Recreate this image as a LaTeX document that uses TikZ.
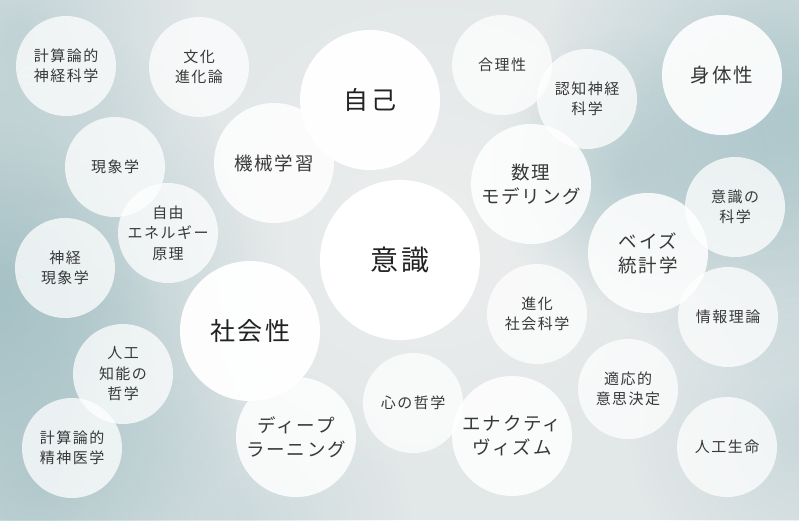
\documentclass[tikz,border=0pt]{standalone}
\usepackage{fontspec}
\setmainfont[LetterSpace=10]{Noto Sans CJK JP}
\usetikzlibrary{fadings}
\definecolor{bgbase}{HTML}{E2E7E8}
\definecolor{tealA}{HTML}{A6C2C6}
\definecolor{tealB}{HTML}{AFC8CC}
\definecolor{lightc}{HTML}{EDEEEE}
\definecolor{txt}{HTML}{383838}
\definecolor{txtd}{HTML}{222222}
\tikzfading[name=softblob, inner color=transparent!0, outer color=transparent!100]
\tikzset{
  bub/.style={circle, inner sep=0pt, align=center, text=txt, fill=white, fill opacity=0.75, text opacity=1},
  sm/.style={bub, minimum size=100pt, font=\fontsize{15}{20.5}\selectfont},
  md/.style={bub, minimum size=120pt, fill opacity=0.85, font=\fontsize{18.5}{24}\selectfont},
  lg/.style={bub, minimum size=140pt, fill opacity=0.97, text=txtd, font=\fontsize{25}{30}\selectfont},
  blob/.style={path fading=softblob}
}
\begin{document}
\begin{tikzpicture}[x=1pt,y=-1pt]
\useasboundingbox (0,0) rectangle (799,520);
\fill[bgbase] (0,0) rectangle (799,520);
\begin{scope}
\clip (0,0) rectangle (799,520);
\fill[lightc, blob, opacity=1] (430,230) circle (260);
\fill[tealA, blob, opacity=1] (-20,300) circle (300);
\fill[tealA, blob, opacity=0.6] (0,290) circle (160);
\fill[tealA, blob, opacity=0.7] (40,480) circle (220);
\fill[tealB, blob, opacity=1] (790,120) circle (260);
\fill[tealB, blob, opacity=0.6] (770,150) circle (150);
\fill[tealB, blob, opacity=0.7] (630,170) circle (140);
\fill[tealB, blob, opacity=0.6] (20,30) circle (180);
\fill[tealB, blob, opacity=0.5] (810,430) circle (180);
\fill[tealB, blob, opacity=0.4] (250,520) circle (160);
\end{scope}
% small circles
\node[sm] (keisanshinkei) at (66,66) {計算論的\\神経科学};
\node[sm] (bunka) at (199,67) {文化\\進化論};
\node[sm] (genshou) at (115,167) {現象学};
\node[sm] (jiyuu) at (168,233) {自由\\エネルギー\\原理};
\node[sm] (shinkeigen) at (65,268) {神経\\現象学};
\node[sm] (jinkou) at (123,374) {人工\\知能の\\哲学};
\node[sm] (seishin) at (72,448) {計算論的\\精神医学};
\node[sm] (kokoro) at (413,403) {心の哲学};
\node[sm] (shinka) at (537,314) {進化\\社会科学};
\node[sm] (tekiou) at (628,389) {適応的\\意思決定};
\node[sm] (jouhou) at (728,317) {情報理論};
\node[sm] (seimei) at (727,447) {人工生命};
\node[sm] (ishikikagaku) at (735,207) {意識の\\科学};
\node[sm] (gouri) at (502,65) {合理性};
\node[sm] (ninchi) at (587,99) {認知神経\\科学};
% medium circles
\node[md] (kikai) at (274,163) {機械学習};
\node[md] (deep) at (296,437) {ディープ\\ラーニング};
\node[md] (enact) at (512,436) {エナクティ\\ヴィズム};
\node[md] (bayes) at (648,253) {ベイズ\\統計学};
\node[md] (suuri) at (531,184) {数理\\モデリング};
\node[md, fill opacity=0.9, font=\fontsize{19.5}{24}\selectfont] (shintai) at (722,75) {身体性};
% large circles
\node[lg] (jiko) at (370,100) {自己};
\node[lg] (shakai) at (250,331) {社会性};
\node[lg, minimum size=160pt, fill opacity=1, font=\fontsize{28}{32}\selectfont] (ishiki) at (400,260) {意識};
\end{tikzpicture}
\end{document}
